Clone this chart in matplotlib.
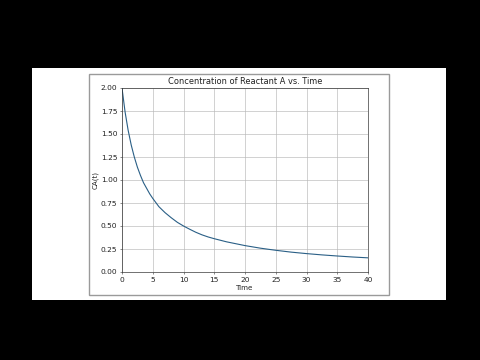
import numpy as np
import matplotlib
matplotlib.use('Agg')
import matplotlib.pyplot as plt
from matplotlib.patches import Rectangle

# values
time = [0, 0.5, 1, 1.5, 2, 2.5, 3, 3.5, 4, 4.5, 5, 6, 7, 8, 9, 10, 11, 12, 13, 14, 15,
        17, 20, 22.5, 25, 27.5, 30, 32.5, 35, 37.5, 40]
conc = [2.00, 1.74, 1.54, 1.38, 1.25, 1.14, 1.05, 0.97, 0.91, 0.85, 0.80, 0.71, 0.645,
        0.59, 0.54, 0.50, 0.465, 0.432, 0.404, 0.381, 0.362, 0.328, 0.287, 0.259, 0.236,
        0.216, 0.200, 0.186, 0.174, 0.163, 0.154]

x_ticks = [0, 5, 10, 15, 20, 25, 30, 35, 40]
y_ticks = [0.00, 0.25, 0.50, 0.75, 1.00, 1.25, 1.50, 1.75, 2.00]

W, H = 480, 360
SCALE = 0.47  # the plot in the video is a shrunken default figure

fig = plt.figure(figsize=(W / 100, H / 100), dpi=100, facecolor='black')

# white slide area and the grey outline of the embedded figure
fig.patches.append(Rectangle((32 / W, 1 - 300 / H), 414 / W, 232 / H, transform=fig.transFigure,
                             facecolor='white', edgecolor='none', zorder=-3))
fig.patches.append(Rectangle((89 / W, 1 - 295 / H), 300 / W, 221 / H, transform=fig.transFigure,
                             facecolor='white', edgecolor='#9a9a9a', linewidth=1.0, zorder=-2))

ax = fig.add_axes([122 / W, 1 - 272 / H, 246 / W, 184 / H])
ax.plot(time, conc, color='#2a5f86', linewidth=0.8)

ax.set_xlim(0, 40)
ax.set_ylim(0, 2.0)
ax.set_xticks(x_ticks)
ax.set_yticks(y_ticks)
ax.set_yticklabels([f'{v:.2f}' for v in y_ticks])
ax.grid(True, color='#b8b8b8', linewidth=0.8 * SCALE * 1.2)
ax.tick_params(labelsize=10 * SCALE * 1.15, length=3.5 * SCALE, width=0.8 * SCALE,
               pad=3.5 * SCALE, colors='#222222')
for sp in ax.spines.values():
    sp.set_linewidth(0.8 * SCALE * 1.3)
    sp.set_color('#333333')

ax.set_title('Concentration of Reactant A vs. Time', fontsize=12 * SCALE * 1.05, pad=6 * SCALE,
             color='#222222')
ax.set_xlabel('Time', fontsize=10 * SCALE * 1.1, labelpad=4 * SCALE, color='#222222')
ax.set_ylabel('CA(t)', fontsize=10 * SCALE * 1.1, labelpad=4 * SCALE, color='#222222')

fig.savefig('out.png', dpi=100, facecolor='black')
